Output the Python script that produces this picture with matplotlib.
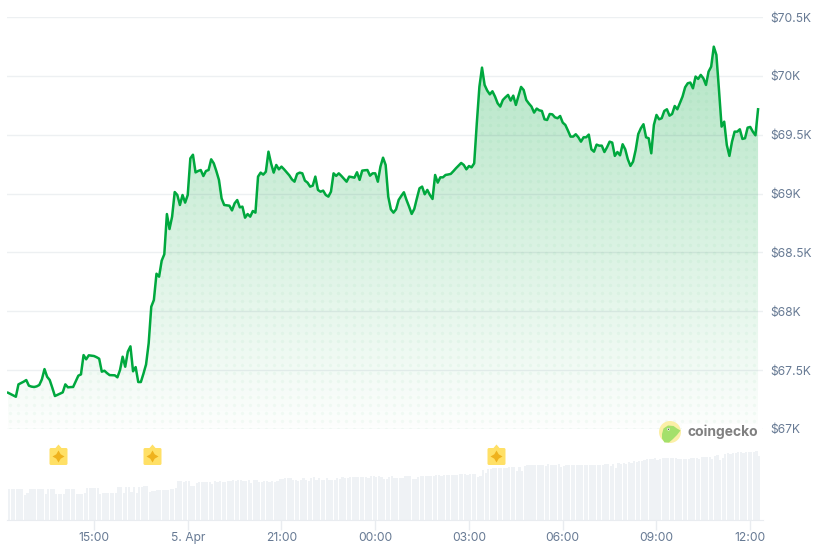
import numpy as np
import matplotlib
matplotlib.use("Agg")
import matplotlib.pyplot as plt
from matplotlib.colors import to_rgb
from matplotlib.patches import Circle, Polygon, Rectangle
from matplotlib.path import Path

# one value every 5 minutes, step 0 is the oldest
prices = [
    67308, 67297, 67285, 67274, 67379, 67390, 67402, 67416, 67368, 67360,
    67357, 67362, 67374, 67422, 67509, 67444, 67416, 67350, 67280, 67290,
    67300, 67311, 67379, 67354, 67356, 67357, 67405, 67453, 67464, 67628,
    67592, 67626, 67623, 67620, 67610, 67597, 67487, 67495, 67475, 67458,
    67457, 67456, 67439, 67501, 67614, 67529, 67657, 67702, 67490, 67526,
    67399, 67399, 67470, 67549, 67728, 68039, 68096, 68319, 68294, 68430,
    68484, 68826, 68699, 68804, 69013, 68988, 68903, 68988, 68923, 68988,
    69299, 69330, 69180, 69192, 69200, 69149, 69192, 69200, 69291, 69257,
    69190, 69115, 68959, 68903, 68900, 68897, 68857, 68917, 68945, 68883,
    68889, 68795, 68826, 68804, 68852, 68838, 69144, 69178, 69161, 69186,
    69356, 69257, 69178, 69243, 69206, 69229, 69206, 69180, 69155, 69121,
    69101, 69167, 69178, 69172, 69110, 69093, 69059, 69067, 69144, 69031,
    69016, 69025, 68988, 68974, 69016, 69172, 69150, 69172, 69150, 69125,
    69101, 69144, 69140, 69135, 69181, 69116, 69195, 69198, 69200, 69152,
    69172, 69172, 69101, 69229, 69305, 69243, 68974, 68866, 68838, 68866,
    68946, 68980, 69011, 68946, 68889, 68827, 68870, 68960, 69045, 69059,
    68994, 69031, 68988, 68954, 69158, 69093, 69138, 69138, 69158, 69162,
    69167, 69190, 69215, 69238, 69260, 69243, 69206, 69234, 69223, 69257,
    69597, 69908, 70070, 69923, 69875, 69843, 69869, 69824, 69767, 69739,
    69795, 69818, 69838, 69790, 69832, 69753, 69830, 69906, 69880, 69795,
    69765, 69739, 69688, 69722, 69707, 69702, 69631, 69625, 69676, 69673,
    69648, 69640, 69659, 69603, 69583, 69535, 69484, 69484, 69504, 69478,
    69441, 69478, 69478, 69501, 69376, 69356, 69416, 69407, 69407, 69353,
    69393, 69441, 69433, 69320, 69353, 69325, 69419, 69376, 69291, 69235,
    69271, 69370, 69506, 69555, 69589, 69478, 69470, 69342, 69583, 69668,
    69631, 69640, 69702, 69716, 69662, 69676, 69744, 69716, 69770, 69824,
    69903, 69937, 69943, 69894, 69994, 69974, 70008, 69979, 69923, 70036,
    70078, 70248, 70178, 69880, 69569, 69611, 69413, 69320, 69441, 69526,
    69526, 69546, 69464, 69470, 69560, 69566, 69526, 69495, 69716,
]
volumes = [
    31, 31, 31, 31, 31, 31, 25, 27, 31, 31,
    31, 31, 31, 31, 26, 31, 31, 31, 26, 26,
    26, 26, 31, 31, 31, 31, 26, 26, 26, 27,
    32, 32, 32, 32, 32, 26, 27, 27, 27, 27,
    27, 27, 33, 33, 27, 33, 33, 28, 33, 27,
    33, 33, 34, 34, 28, 29, 29, 30, 30, 30,
    30, 30, 31, 31, 32, 39, 39, 38, 39, 39,
    34, 34, 37, 38, 38, 38, 38, 38, 36, 39,
    38, 39, 38, 38, 39, 39, 40, 39, 40, 40,
    39, 39, 40, 37, 40, 40, 38, 38, 39, 39,
    38, 39, 38, 39, 41, 41, 42, 42, 42, 40,
    40, 39, 40, 42, 40, 39, 42, 43, 40, 42,
    40, 40, 42, 40, 40, 40, 42, 41, 43, 42,
    42, 43, 43, 43, 43, 43, 43, 43, 42, 44,
    44, 43, 44, 43, 41, 41, 43, 44, 42, 42,
    42, 42, 44, 44, 44, 41, 41, 43, 44, 44,
    44, 44, 44, 44, 45, 45, 44, 45, 45, 45,
    45, 45, 45, 46, 46, 46, 45, 46, 46, 46,
    43, 44, 50, 47, 51, 51, 52, 52, 52, 52,
    52, 52, 53, 53, 53, 49, 53, 49, 54, 55,
    55, 55, 55, 55, 55, 55, 54, 56, 55, 55,
    55, 56, 53, 54, 55, 55, 55, 55, 55, 55,
    55, 55, 55, 55, 55, 55, 55, 55, 55, 56,
    56, 54, 56, 52, 57, 56, 57, 56, 58, 57,
    59, 58, 59, 59, 60, 61, 61, 61, 62, 60,
    61, 62, 62, 62, 62, 62, 62, 61, 61, 61,
    61, 61, 62, 62, 62, 61, 63, 63, 63, 63,
    61, 64, 65, 60, 62, 66, 67, 66, 67, 67,
    68, 68, 67, 68, 68, 68, 68, 69, 64,
]
price_ticks = [67000, 67500, 68000, 68500, 69000, 69500, 70000, 70500]
price_labels = ["$67K", "$67.5K", "$68K", "$68.5K", "$69K", "$69.5K", "$70K", "$70.5K"]
time_ticks = [33, 69, 105, 141, 177, 213, 249, 285]
time_labels = ["15:00", "5. Apr", "21:00", "00:00", "03:00", "06:00", "09:00", "12:00"]
event_steps = [19.2, 55.3, 187.2]

GREEN = "#00a83e"
TEXT = "#677a94"
W, H = 821, 544

plt.rcParams["font.family"] = ["Inter", "DejaVu Sans"]
plt.rcParams["font.size"] = 8.7

steps = np.arange(len(prices))
xlim = (-0.4, 289.9)


def rect(left, top, right, bottom):
    return [left / W, 1 - bottom / H, (right - left) / W, (bottom - top) / H]


fig = plt.figure(figsize=(W / 100, H / 100), dpi=100)

# price panel
ax = fig.add_axes(rect(7, 17, 763, 429))
ax.set_xlim(xlim)
ax.set_ylim(67000, 70500)

area = ax.fill_between(steps, prices, 67000, facecolor="none", edgecolor="none")
clip = area.get_paths()[0]

top = max(prices)
grad = np.zeros((256, 1, 4))
grad[:, :, :3] = to_rgb(GREEN)
grad[:, 0, 3] = np.linspace(0.30, 0.01, 256)
im = ax.imshow(grad, extent=(0, len(prices) - 1, 67000, top), aspect="auto",
               origin="upper", zorder=0.5)
im.set_clip_path(clip, transform=ax.transData)
ax.set_xlim(xlim)
ax.set_ylim(67000, 70500)

# dotted texture inside the area
dx, dy = np.meshgrid(np.arange(0.8, 290, 8 / 2.604), np.arange(67000, 70400, 68))
dots = ax.scatter(dx.ravel(), dy.ravel(), s=6, color=GREEN, alpha=0.04, linewidths=0, zorder=1)
dots.set_clip_path(clip, transform=ax.transData)

ax.plot(steps, prices, color=GREEN, lw=1.8, solid_joinstyle="round", zorder=3)

ax.set_yticks(price_ticks, price_labels)
ax.yaxis.tick_right()
ax.tick_params(axis="y", length=0, pad=5.2, labelcolor=TEXT)
ax.set_xticks([])
ax.grid(axis="y", color="#24405f", alpha=0.08, lw=1)
ax.set_axisbelow(False)
for s in ax.spines.values():
    s.set_visible(False)

# volume panel
vol = fig.add_axes(rect(7, 440, 763, 520))
vol.set_xlim(xlim)
vol.set_ylim(0, 80)
vol.bar(steps, volumes, width=0.86, align="edge", color="#eff2f5")
vol.set_xticks(time_ticks, time_labels)
vol.set_yticks([])
vol.tick_params(axis="x", length=7.2, width=1, color="#e9ecf0", pad=1.5, labelcolor=TEXT)
for name, s in vol.spines.items():
    s.set_visible(name == "bottom")
vol.spines["bottom"].set_color("#e9ecf0")
vol.patch.set_alpha(0)

# event flags
flag = Path(
    [(-9, -8.5), (-9, 7), (-9, 8.5), (-7.5, 8.5), (-3, 8.5), (0, 12), (3, 8.5), (7.5, 8.5),
     (9, 8.5), (9, 7), (9, -7), (9, -8.5), (7.5, -8.5), (-7.5, -8.5), (-9, -8.5), (-9, -7), (-9, -8.5)],
    [Path.MOVETO, Path.LINETO, Path.CURVE3, Path.CURVE3, Path.LINETO, Path.LINETO, Path.LINETO, Path.LINETO,
     Path.CURVE3, Path.CURVE3, Path.LINETO, Path.CURVE3, Path.CURVE3, Path.LINETO, Path.CURVE3, Path.CURVE3,
     Path.CLOSEPOLY],
)
spark = Path([(0, 6), (2.2, 2.2), (6, 0), (2.2, -2.2), (0, -6), (-2.2, -2.2), (-6, 0), (-2.2, 2.2), (0, 6)],
             closed=True)
flag_y = [64.5] * len(event_steps)
vol.scatter(event_steps, flag_y, marker=flag, s=(24 * 0.72) ** 2, color="#ffe066", linewidths=0,
            clip_on=False, zorder=4)
vol.scatter(event_steps, flag_y, marker=spark, s=(12 * 0.72) ** 2, color="#efb21d", linewidths=0,
            clip_on=False, zorder=5)

# watermark
over = fig.add_axes([0, 0, 1, 1])
over.set_xlim(0, W)
over.set_ylim(H, 0)
over.axis("off")
over.add_patch(Rectangle((682, 424), 80, 16, color="white", lw=0))
over.add_patch(Circle((670, 432), 11, color="#fbefa6", lw=0))
over.add_patch(Polygon([(662, 434), (663.5, 428.5), (668, 425.5), (673.5, 426), (677, 428.5), (680.5, 430.5),
                        (677, 435), (673, 439), (669, 442.5), (664.5, 442.5), (662, 438.5)],
                       closed=True, color="#a4e06b", lw=0))
over.add_patch(Circle((668.5, 429.3), 1.3, color="white", lw=0))
over.add_patch(Circle((668.5, 429.3), 0.7, color="#555555", lw=0))
over.text(688, 432, "coingecko", fontsize=10, fontweight="bold", color="#808080", va="center", ha="left")

fig.savefig("out.png", dpi=100)
